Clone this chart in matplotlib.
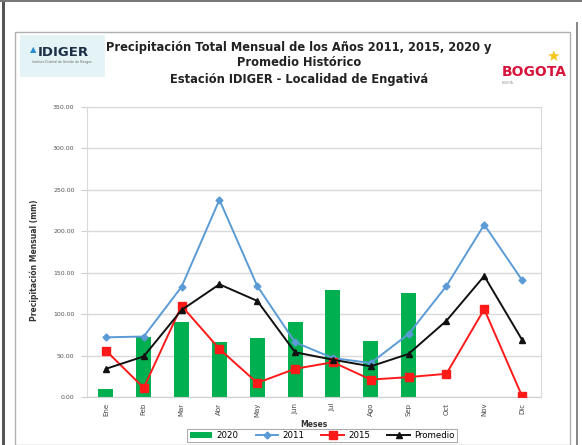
import matplotlib
matplotlib.use("Agg")
import matplotlib.pyplot as plt
from matplotlib.patches import Rectangle
import numpy as np

months = ["Ene", "Feb", "Mar", "Abr", "May", "Jun", "Jul", "Ago", "Sep", "Oct", "Nov", "Dic"]
v2020 = [10, 73, 91, 66, 71, 90, 129, 68, 126, 0, 0, 0]
v2011 = [72, 73, 133, 238, 134, 66, 47, 41, 76, 134, 208, 141]
v2015 = [56, 11, 110, 58, 17, 34, 42, 21, 24, 28, 106, 1]
vprom = [34, 49, 105, 136, 116, 54, 45, 37, 52, 92, 146, 69]
yticks = [0, 50, 100, 150, 200, 250, 300, 350]

W, H = 582, 445
fig = plt.figure(figsize=(W / 100, H / 100), dpi=100)
fig.patch.set_facecolor("white")

def fx(x): return x / W
def fy(y): return 1 - y / H

# outer frame elements
fig.add_artist(Rectangle((fx(2), 0), fx(3), 1, transform=fig.transFigure, color="#555555", lw=0))
fig.add_artist(Rectangle((0, fy(1.5)), 1, 1.5 / H, transform=fig.transFigure, color="#777777", lw=0))
fig.add_artist(Rectangle((fx(576), 0), fx(2), fy(22), transform=fig.transFigure, color="#888888", lw=0))
fig.add_artist(Rectangle((fx(15), fy(445)), fx(555), (445 - 32) / H, transform=fig.transFigure,
                         facecolor="none", edgecolor="#b0b0b0", lw=1.0))

# IDIGER logo approximation
fig.add_artist(Rectangle((fx(20), fy(77)), fx(85), 42 / H, transform=fig.transFigure,
                         facecolor="#e4f3f6", edgecolor="none"))
fig.text(fx(38), fy(52), "IDIGER", fontsize=9.5, fontweight="bold", color="#1b2f45",
         ha="left", va="center", family="DejaVu Sans")
fig.text(fx(33), fy(50), "\u25B2", fontsize=6, color="#2a8fd0", ha="center", va="center")
fig.text(fx(62), fy(62), "Instituto Distrital de Gestión de Riesgos", fontsize=2.2, color="#666666",
         ha="center", va="center")

# Bogota logo approximation
fig.text(fx(534), fy(72), "BOGOTA", fontsize=10, fontweight="bold", color="#d6143c",
         ha="center", va="center", family="DejaVu Sans")
fig.text(fx(553), fy(56), "\u2605", fontsize=11, color="#f5c518", ha="center", va="center",
         family="DejaVu Sans")
fig.text(fx(502), fy(83), "BOGOTÁ", fontsize=2, color="#888888", ha="left", va="center")

# Title
fig.text(fx(299), fy(47), "Precipitación Total Mensual de los Años 2011, 2015, 2020 y",
         fontsize=8.3, fontweight="bold", ha="center", va="center", color="#222222")
fig.text(fx(299), fy(63), "Promedio Histórico", fontsize=8.3, fontweight="bold",
         ha="center", va="center", color="#222222")
fig.text(fx(299), fy(79), "Estación IDIGER - Localidad de Engativá", fontsize=8.3, fontweight="bold",
         ha="center", va="center", color="#222222")

ax = fig.add_axes([fx(87), fy(397), fx(541 - 87), (397 - 107) / H])
x = np.arange(len(months))
ax.bar(x, v2020, width=0.4, color="#00b050", label="2020", zorder=2)
ax.plot(x, v2011, color="#5b9bd5", lw=1.4, marker="D", ms=3.5, label="2011", zorder=3)
ax.plot(x, v2015, color="#ff1a1a", lw=1.4, marker="s", ms=6, label="2015", zorder=4)
ax.plot(x, vprom, color="#111111", lw=1.4, marker="^", ms=4.5, label="Promedio", zorder=5)

ax.set_xlim(-0.5, len(months) - 0.5)
ax.set_ylim(0, 350)
ax.set_yticks(yticks)
ax.set_yticklabels([f"{v:.2f}" for v in yticks], fontsize=4.5, color="#555555")
ax.set_xticks(x)
ax.set_xticklabels(months, rotation=90, fontsize=5, color="#444444")
ax.tick_params(axis="y", length=4, color="#d0d0d0", pad=5)
ax.tick_params(axis="x", length=0, pad=4)
ax.grid(axis="y", color="#d9d9d9", lw=1.0, zorder=0)
ax.set_axisbelow(True)
for side in ["left", "top", "right"]:
    ax.spines[side].set_color("#d9d9d9")
ax.spines["bottom"].set_color("#cfcfcf")
ax.set_ylabel("Precipitación Mensual (mm)", fontsize=5.5, fontweight="bold", color="#333333")
ax.yaxis.set_label_coords(-0.105, 0.47)
ax.set_xlabel("Meses", fontsize=5.5, fontweight="bold", color="#333333", labelpad=2)

handles, labels = ax.get_legend_handles_labels()
order = [labels.index(k) for k in ["2020", "2011", "2015", "Promedio"]]
leg = fig.legend([handles[i] for i in order], [labels[i] for i in order],
                 loc="upper center", bbox_to_anchor=(fx(322), fy(429)), ncol=4, fontsize=6.2,
                 frameon=True, edgecolor="#999999", fancybox=False, handlelength=2.6,
                 columnspacing=2.0, borderpad=0.25, handletextpad=0.5, borderaxespad=0)
leg.get_frame().set_linewidth(0.8)

fig.savefig("out.png", dpi=100, facecolor="white")
